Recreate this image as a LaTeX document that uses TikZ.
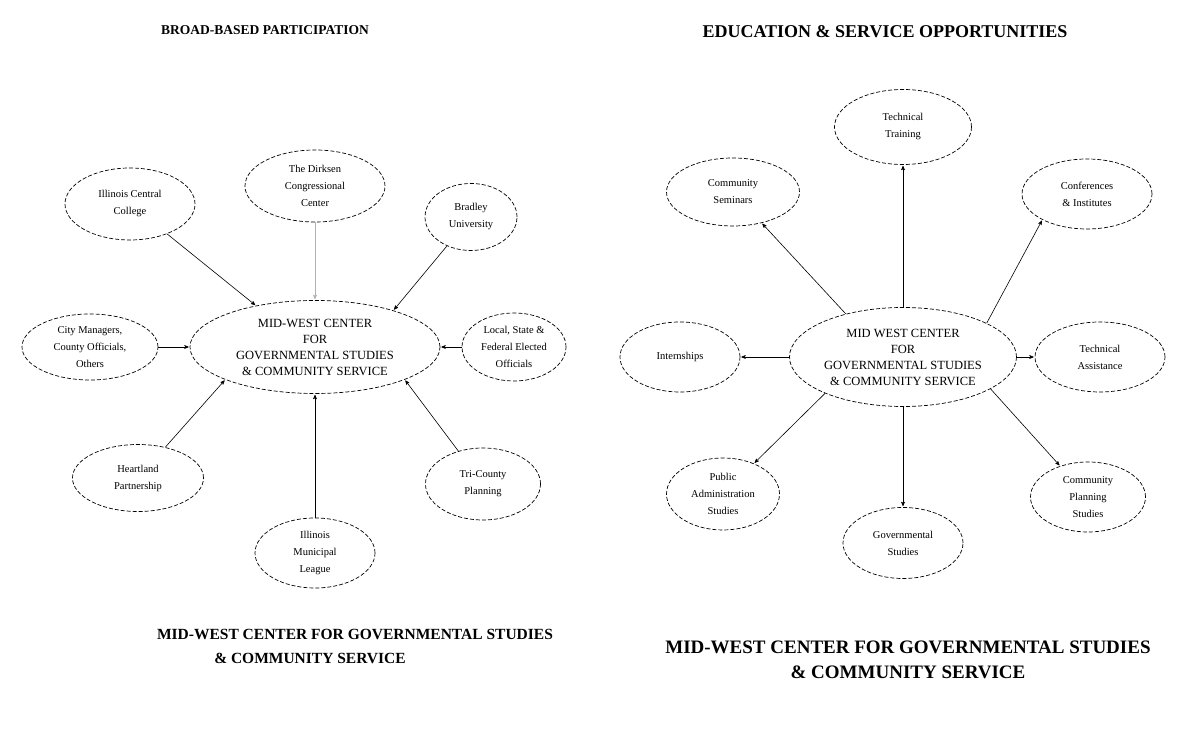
\documentclass[tikz,border=0pt]{standalone}
\usepackage{fontspec}
\setmainfont{Liberation Serif}
\usetikzlibrary{arrows,shapes.geometric,positioning}

\tikzset{
  bubble/.style={ellipse,draw,dash pattern=on 4pt off 2pt,line width=0.7pt,inner sep=0pt,
    align=center,font=\fontsize{10.5}{17}\selectfont,minimum width=120pt,minimum height=70pt},
  hub/.style={bubble,font=\fontsize{12.5}{16}\selectfont},
  heading/.style={font=\bfseries\fontsize{13.5}{16}\selectfont},
  footer/.style={align=center,font=\bfseries\fontsize{15.5}{24}\selectfont}
}

\begin{document}
\begin{tikzpicture}[x=1pt,y=1pt,>=stealth',shorten >=1pt,on grid,line width=0.6pt]
\useasboundingbox (0,0) rectangle (1203,738);

% left page: broad-based participation
\node[heading] (titleL) at (265,708) {BROAD-BASED PARTICIPATION};
\node[hub,minimum width=250pt,minimum height=93pt] (cl) at (315,391)
  {MID-WEST CENTER\\FOR\\GOVERNMENTAL STUDIES\\\& COMMUNITY SERVICE};
\node[bubble,minimum width=140pt,minimum height=72pt] (dirksen) [above=161pt of cl] {The Dirksen\\Congressional\\Center};
\node[bubble,minimum width=130pt,minimum height=72pt] (icc) [above left=143pt and 185pt of cl] {Illinois Central\\College};
\node[bubble,minimum width=92pt,minimum height=67pt] (bradley) [above right=130pt and 156pt of cl] {Bradley\\University};
\node[bubble,minimum width=136pt,minimum height=66pt] (citym) [left=225pt of cl] {City Managers,\\County Officials,\\Others};
\node[bubble,minimum width=104pt,minimum height=68pt] (local) [right=199pt of cl] {Local, State \&\\Federal Elected\\Officials};
\node[bubble,minimum width=131pt,minimum height=67pt] (heart) [below left=131pt and 177pt of cl] {Heartland\\Partnership};
\node[bubble,minimum width=120pt,minimum height=70pt] (iml) [below=206pt of cl] {Illinois\\Municipal\\League};
\node[bubble,minimum width=115pt,minimum height=72pt] (tri) [below right=137pt and 168pt of cl] {Tri-County\\Planning};
\node[footer] (footL) at (355,104) {MID-WEST CENTER FOR GOVERNMENTAL STUDIES};
\node[footer] (footL2) [below left=24pt and 45pt of footL] {\& COMMUNITY SERVICE};

\path[->] (dirksen) edge[draw=gray!60] (cl)
          (icc)     edge (cl.145)
          (bradley) edge (cl.25)
          (citym)   edge (cl)
          (local)   edge (cl)
          (heart)   edge (cl.200)
          (iml)     edge (cl)
          (tri)     edge (cl.-20);

% right page: education & service opportunities
\node[heading,font=\bfseries\fontsize{18}{20}\selectfont] (titleR) at (885,706) {EDUCATION \& SERVICE OPPORTUNITIES};
\node[hub,minimum width=227pt,minimum height=99pt] (cr) at (903,381)
  {MID WEST CENTER\\FOR\\GOVERNMENTAL STUDIES\\\& COMMUNITY SERVICE};
\node[bubble,minimum width=137pt,minimum height=75pt] (ttrain) [above=230pt of cr] {Technical\\Training};
\node[bubble,minimum width=133pt,minimum height=68pt] (seminar) [above left=165pt and 170pt of cr] {Community\\Seminars};
\node[bubble,minimum width=130pt,minimum height=70pt] (confer) [above right=163pt and 184pt of cr] {Conferences\\\& Institutes};
\node[bubble,minimum width=120pt,minimum height=70pt] (intern) [left=223pt of cr] {Internships};
\node[bubble,minimum width=130pt,minimum height=70pt] (tassist) [right=197pt of cr] {Technical\\Assistance};
\node[bubble,minimum width=113pt,minimum height=72pt] (pubadm) [below left=137pt and 180pt of cr] {Public\\Administration\\Studies};
\node[bubble,minimum width=115pt,minimum height=70pt] (cplan) [below right=140pt and 185pt of cr] {Community\\Planning\\Studies};
\node[bubble,minimum width=120pt,minimum height=71pt] (govst) [below=186pt of cr] {Governmental\\Studies};
\node[footer,font=\bfseries\fontsize{19}{25}\selectfont] (footR) at (908,78) {MID-WEST CENTER FOR GOVERNMENTAL STUDIES\\\& COMMUNITY SERVICE};

\path[->] (cr)     edge (ttrain)
          (cr.143) edge (seminar)
          (cr.22)  edge (confer.210)
          (cr)     edge (intern)
          (cr)     edge (tassist)
          (cr.205) edge (pubadm)
          (cr.-20) edge (cplan)
          (cr)     edge (govst);
\end{tikzpicture}
\end{document}
